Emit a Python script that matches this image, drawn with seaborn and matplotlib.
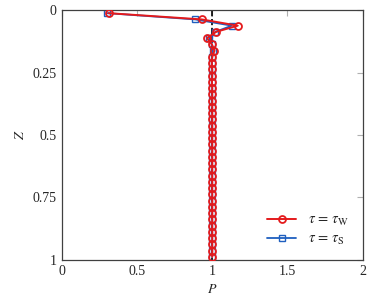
import matplotlib
matplotlib.use("Agg")
import matplotlib.pyplot as plt
import seaborn as sns
import pandas as pd

# depth grid (cell centres)
z = [0.0125, 0.0375, 0.0625, 0.0875, 0.1125, 0.1375, 0.1625, 0.1875,
     0.2125, 0.2375, 0.2625, 0.2875, 0.3125, 0.3375, 0.3625, 0.3875,
     0.4125, 0.4375, 0.4625, 0.4875, 0.5125, 0.5375, 0.5625, 0.5875,
     0.6125, 0.6375, 0.6625, 0.6875, 0.7125, 0.7375, 0.7625, 0.7875,
     0.8125, 0.8375, 0.8625, 0.8875, 0.9125, 0.9375, 0.9625, 0.9875]

p_w = [0.31, 0.93, 1.17, 1.025, 0.965, 0.998, 1.015, 1.0,
       0.997, 1.0, 1.0, 0.998, 1.0, 1.0, 1.0, 1.0,
       1.0, 1.0, 1.0, 1.0, 1.0, 1.0, 1.0, 1.0,
       1.0, 1.0, 1.0, 1.0, 1.0, 1.0, 1.0, 1.0,
       1.0, 1.0, 1.0, 1.0, 1.0, 1.0, 1.0, 1.0]

p_s = [0.30, 0.885, 1.13, 1.02, 0.98, 0.998, 1.005, 1.0,
       0.998, 1.0, 1.0, 0.999, 1.0, 1.0, 1.0, 1.0,
       1.0, 1.0, 1.0, 1.0, 1.0, 1.0, 1.0, 1.0,
       1.0, 1.0, 1.0, 1.0, 1.0, 1.0, 1.0, 1.0,
       1.0, 1.0, 1.0, 1.0, 1.0, 1.0, 1.0, 1.0]

# reference profile (dashed)
ref_p = [0, 1, 1]
ref_z = [0, 0, 1]

sns.set_style("white")
plt.rcParams['font.family'] = ['Liberation Serif', 'DejaVu Serif']
plt.rcParams['mathtext.fontset'] = 'stix'

df_w = pd.DataFrame({'P': p_w, 'Z': z})
df_s = pd.DataFrame({'P': p_s, 'Z': z})

fig = plt.figure(figsize=(3.73, 3.04), dpi=100)
ax = fig.add_axes([0.166, 0.145, 0.806, 0.822])

ax.plot(ref_p, ref_z, color='black', ls='--', lw=1.2, zorder=1)

red = '#e41a1c'
blue = '#1f5fbf'
sns.lineplot(data=df_s, x='P', y='Z', sort=False, estimator=None,
             color=blue, marker='s', markersize=4, markerfacecolor='none',
             markeredgecolor=blue, markeredgewidth=1.0, lw=1.3, ax=ax,
             label=r'$\tau\,=\,\tau_{\mathrm{S}}$', zorder=2)
sns.lineplot(data=df_w, x='P', y='Z', sort=False, estimator=None,
             color=red, marker='o', markersize=5, markerfacecolor='none',
             markeredgecolor=red, markeredgewidth=1.3, lw=1.4, ax=ax,
             label=r'$\tau\,=\,\tau_{\mathrm{W}}$', zorder=3)

ax.set_xlim(0, 2)
ax.set_ylim(1, 0)
ax.set_xticks([0, 0.5, 1, 1.5, 2])
ax.set_xticklabels(['0', '0.5', '1', '1.5', '2'])
ax.set_yticks([0, 0.25, 0.5, 0.75, 1])
ax.set_yticklabels(['0', '0.25', '0.5', '0.75', '1'])
ax.tick_params(direction='in', length=4, width=0.8, color='#b0b0b0',
               labelsize=10, top=True, right=True, pad=4)
ax.set_xlabel(r'$P$', fontsize=10, labelpad=3)
ax.set_ylabel(r'$Z$', fontsize=10, labelpad=4)
for s in ax.spines.values():
    s.set_color('#404040')
    s.set_linewidth(0.9)

h, l = ax.get_legend_handles_labels()
ax.legend(h[::-1], l[::-1], loc='lower right', frameon=False, fontsize=10.5,
          handlelength=2.0, borderaxespad=0.5, labelspacing=0.3)

fig.savefig('out.png', dpi=100)
